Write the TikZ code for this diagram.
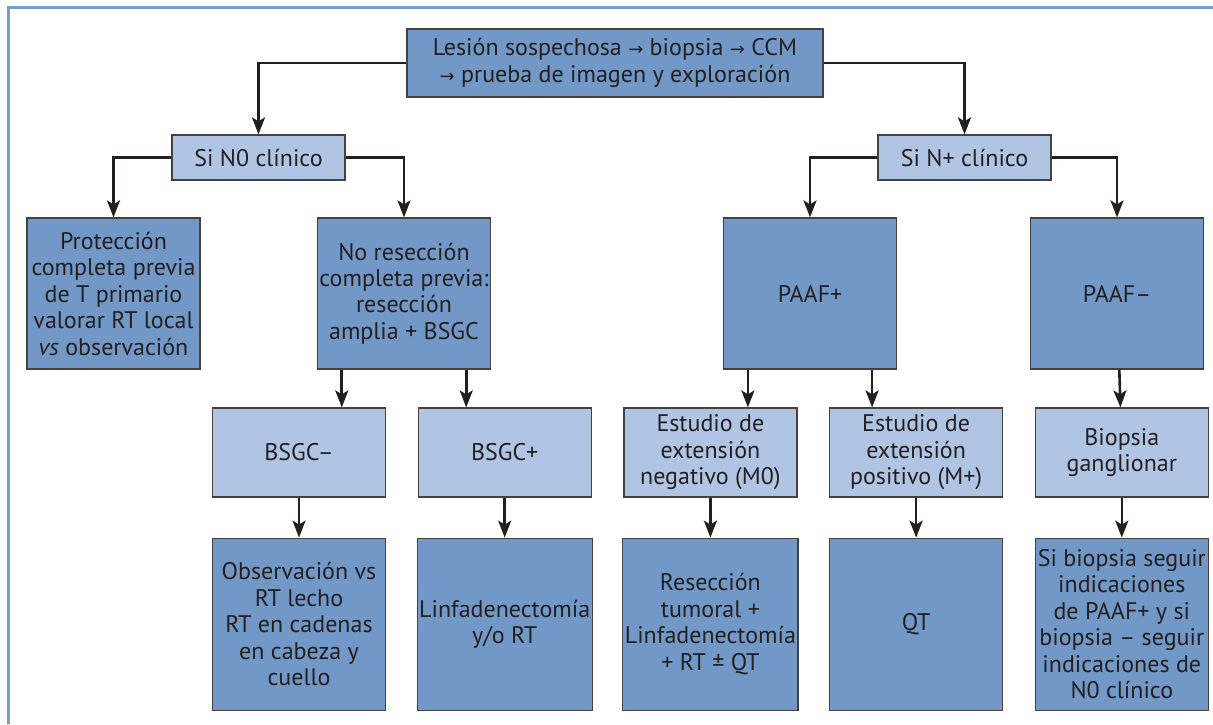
\documentclass[tikz,border=0pt]{standalone}
\usepackage{fontspec}
\setmainfont{PT Sans}
\newfontfamily\arrowfont{DejaVu Sans}
\usetikzlibrary{arrows.meta,positioning}

\definecolor{boxdark}{HTML}{7198C6}
\definecolor{boxlight}{HTML}{B0C5E3}
\definecolor{framecol}{HTML}{789ECF}
\definecolor{inkgray}{HTML}{231F20}
\newcommand{\flecha}{{\arrowfont\small →}}

\tikzset{
  box/.style  ={rectangle,draw=inkgray!85,line width=0.6pt,minimum width=86.5pt,inner sep=1pt,
                align=center,text=inkgray,font=\fontsize{12}{13.25}\selectfont},
  dark/.style ={box,fill=boxdark},
  light/.style={box,fill=boxlight},
  link/.style ={->,line width=1.3pt,draw=inkgray},
  >={Stealth[length=8.5pt,width=6.5pt,inset=2pt]}
}

\begin{document}
\begin{tikzpicture}
\useasboundingbox (0,0) rectangle (606.5pt,-362pt);

% marco superior e izquierdo
\draw[framecol,line width=1.4pt] (4.35pt,-362pt) -- (4.35pt,-3.65pt) -- (606.5pt,-3.65pt);

% -------- inicio --------
\node[dark,minimum width=208pt,minimum height=34pt] (ini) at (307.5pt,-31.5pt)
  {Lesión sospechosa \flecha{} biopsia \flecha{} CCM\\ \flecha{} prueba de imagen y exploración};

% -------- N0 / N+ --------
\node[light,minimum height=22.5pt] (n0) at (129.25pt,-78.75pt) {Si N0 clínico};
\node[light,minimum height=22.5pt] (np) at (482.25pt,-78.75pt) {Si N+ clínico};

% -------- segunda fila --------
\node[dark,minimum height=75.5pt] (prot)  at (56.75pt,-146.75pt)
  {Protección\\completa previa\\de T primario\\valorar RT local\\\emph{vs} observación};
\node[dark,minimum height=75.5pt] (nores) at (202pt,-146.75pt)
  {No resección\\completa previa:\\resección\\amplia + BSGC};
\node[dark,minimum height=75.5pt] (paafp) at (405pt,-146.75pt) {PAAF+};
\node[dark,minimum height=75.5pt] (paafn) at (558.5pt,-146.75pt) {PAAF–};

% -------- tercera fila --------
\node[light,minimum height=44.5pt] (bneg) at (149.5pt,-226.25pt) {BSGC–};
\node[light,minimum height=44.5pt,right=15.75pt of bneg] (bpos) {BSGC+};
\node[light,minimum height=44.5pt,right=15.75pt of bpos] (eneg) {Estudio de\\extensión\\negativo (M0)};
\node[light,minimum height=44.5pt,right=15.75pt of eneg] (epos) {Estudio de\\extensión\\positivo (M+)};
\node[light,minimum height=44.5pt,right=15.75pt of epos] (biop) {Biopsia\\ganglionar};

% -------- cuarta fila --------
\node[dark,minimum height=86pt,below=20pt of bneg] (obs)   {Observación vs\\RT lecho\\RT en cadenas\\en cabeza y\\cuello};
\node[dark,minimum height=86pt,below=20pt of bpos] (linf)  {Linfadenectomía\\y/o RT};
\node[dark,minimum height=86pt,below=20pt of eneg] (resec) {Resección\\tumoral +\\Linfadenectomía\\+ RT ± QT};
\node[dark,minimum height=86pt,below=20pt of epos] (qt)    {QT};
\node[dark,minimum height=86pt,below=20pt of biop] (sibio) {Si biopsia seguir\\indicaciones\\de PAAF+ y si\\biopsia – seguir\\indicaciones de\\N0 clínico};

% conexiones
\draw[link] (ini) -| (n0);
\draw[link] (ini) -| (np);
\draw[link] (n0) -| (prot);
\draw[link] (n0) -| (nores);
\draw[link] (np) -| (paafp);
\draw[link] (np) -| (paafn);

\draw[link] ([xshift=12.5pt]nores.south west)  coordinate (a1) -- (a1 |- bneg.north);
\draw[link] ([xshift=-12.5pt]nores.south east) coordinate (a2) -- (a2 |- bpos.north);
\draw[link] ([xshift=12.5pt]paafp.south west)  coordinate (a3) -- (a3 |- eneg.north);
\draw[link] ([xshift=-12.5pt]paafp.south east) coordinate (a4) -- (a4 |- epos.north);
\draw[link] (paafn) -- (biop);

\foreach \a/\b in {bneg/obs,bpos/linf,eneg/resec,epos/qt,biop/sibio} \draw[link] (\a) -- (\b);

\end{tikzpicture}
\end{document}
